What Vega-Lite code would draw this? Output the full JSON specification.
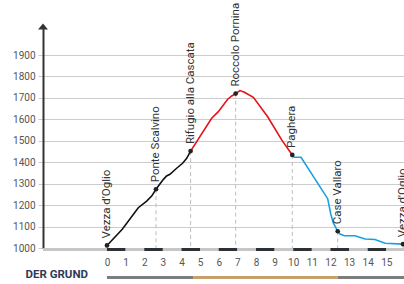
{
  "$schema": "https://vega.github.io/schema/vega-lite/v6.json",
  "width": 361,
  "height": 223,
  "autosize": {"type": "none"},
  "padding": {"left": 43, "top": 25, "right": 0, "bottom": 36},
  "background": "white",
  "config": {"view": {"stroke": null}, "font": "Roboto", "axis": {"labelOverlap": false}},
  "datasets": {
    "band": [
      {"from": -3.437, "to": 0, "kind": "light"},
      {"from": 0, "to": 1, "kind": "dark"},
      {"from": 1, "to": 2, "kind": "light"},
      {"from": 2, "to": 3, "kind": "dark"},
      {"from": 3, "to": 4, "kind": "light"},
      {"from": 4, "to": 5, "kind": "dark"},
      {"from": 5, "to": 6, "kind": "light"},
      {"from": 6, "to": 7, "kind": "dark"},
      {"from": 7, "to": 8, "kind": "light"},
      {"from": 8, "to": 9, "kind": "dark"},
      {"from": 9, "to": 10, "kind": "light"},
      {"from": 10, "to": 11, "kind": "dark"},
      {"from": 11, "to": 12, "kind": "light"},
      {"from": 12, "to": 13, "kind": "dark"},
      {"from": 13, "to": 14, "kind": "light"},
      {"from": 14, "to": 15, "kind": "dark"},
      {"from": 15, "to": 16, "kind": "light"}
    ],
    "track": [
      {"from": 0, "to": 4.65, "surface": "road"},
      {"from": 4.65, "to": 12.4, "surface": "trail"},
      {"from": 12.4, "to": 16, "surface": "road"}
    ],
    "profile": [
      {"km": 0, "elev": 1012, "seg": "a"},
      {"km": 0.82, "elev": 1087, "seg": "a"},
      {"km": 1.68, "elev": 1188, "seg": "a"},
      {"km": 2.13, "elev": 1219, "seg": "a"},
      {"km": 2.4, "elev": 1242, "seg": "a"},
      {"km": 2.63, "elev": 1274, "seg": "a"},
      {"km": 3.03, "elev": 1320, "seg": "a"},
      {"km": 3.2, "elev": 1336, "seg": "a"},
      {"km": 3.38, "elev": 1344, "seg": "a"},
      {"km": 3.74, "elev": 1372, "seg": "a"},
      {"km": 4.06, "elev": 1395, "seg": "a"},
      {"km": 4.28, "elev": 1418, "seg": "a"},
      {"km": 4.49, "elev": 1452, "seg": "a"},
      {"km": 4.49, "elev": 1452, "seg": "b"},
      {"km": 5.62, "elev": 1605, "seg": "b"},
      {"km": 5.98, "elev": 1636, "seg": "b"},
      {"km": 6.48, "elev": 1694, "seg": "b"},
      {"km": 6.7, "elev": 1709, "seg": "b"},
      {"km": 6.91, "elev": 1720, "seg": "b"},
      {"km": 7.14, "elev": 1734, "seg": "b"},
      {"km": 7.38, "elev": 1726, "seg": "b"},
      {"km": 7.86, "elev": 1703, "seg": "b"},
      {"km": 8.63, "elev": 1612, "seg": "b"},
      {"km": 9.38, "elev": 1504, "seg": "b"},
      {"km": 9.95, "elev": 1434, "seg": "b"},
      {"km": 9.95, "elev": 1434, "seg": "c"},
      {"km": 10.05, "elev": 1423, "seg": "c"},
      {"km": 10.42, "elev": 1423, "seg": "c"},
      {"km": 11.85, "elev": 1230, "seg": "c"},
      {"km": 12.03, "elev": 1154, "seg": "c"},
      {"km": 12.15, "elev": 1118, "seg": "c"},
      {"km": 12.39, "elev": 1078, "seg": "c"},
      {"km": 12.51, "elev": 1065, "seg": "c"},
      {"km": 12.75, "elev": 1057, "seg": "c"},
      {"km": 13.32, "elev": 1057, "seg": "c"},
      {"km": 13.86, "elev": 1042, "seg": "c"},
      {"km": 14.39, "elev": 1040, "seg": "c"},
      {"km": 14.93, "elev": 1022, "seg": "c"},
      {"km": 15.9, "elev": 1018, "seg": "c"}
    ],
    "places": [
      {"km": 0, "elev": 1012, "name": "Vezza d'Oglio"},
      {"km": 2.63, "elev": 1274, "name": "Ponte Scalvino"},
      {"km": 4.49, "elev": 1452, "name": "Rifugio alla Cascata"},
      {"km": 6.91, "elev": 1720, "name": "Roccolo Pornina"},
      {"km": 9.95, "elev": 1434, "name": "Paghera"},
      {"km": 12.39, "elev": 1078, "name": "Case Vallaro"},
      {"km": 15.9, "elev": 1018, "name": "Vezza d'Oglio"}
    ]
  },
  "resolve": {"scale": {"color": "independent"}},
  "layer": [
    {
      "data": {"name": "band"},
      "mark": {"type": "rect"},
      "encoding": {
        "x": {
          "field": "from", "type": "quantitative",
          "scale": {"domain": [-3.437, 15.95], "nice": false, "zero": false},
          "axis": {"values": [0,1,2,3,4,5,6,7,8,9,10,11,12,13,14,15], "tickCount": 40, "format": "d", "title": null, "domain": false, "ticks": false, "tickSize": 0, "grid": false, "labelColor": "#555555", "labelFontSize": 10, "labelPadding": 9, "labelFlush": false, "labelOverlap": false}
        },
        "x2": {"field": "to"},
        "y": {
          "datum": 1000, "type": "quantitative",
          "scale": {"domain": [1000, 2040], "nice": false, "zero": false},
          "axis": {"values": [1000,1100,1200,1300,1400,1500,1600,1700,1800,1900], "tickCount": 40, "format": "d", "title": null, "grid": true, "gridColor": "#cccccc", "gridWidth": 1, "domainColor": "#333333", "domainWidth": 2, "tickColor": "#cccccc", "tickSize": 5, "labelColor": "#555555", "labelFontSize": 10, "labelPadding": 3, "labelOverlap": false}
        },
        "y2": {"datum": 986},
        "color": {"field": "kind", "type": "nominal", "scale": {"domain": ["light", "dark"], "range": ["#c6c6c6", "#2b2f36"]}, "legend": null}
      }
    },
    {
      "data": {"name": "track"},
      "mark": {"type": "rect"},
      "encoding": {
        "x": {"field": "from", "type": "quantitative"},
        "x2": {"field": "to"},
        "y": {"datum": 869},
        "y2": {"datum": 855},
        "color": {"field": "surface", "type": "nominal", "scale": {"domain": ["road", "trail"], "range": ["#7d7d7d", "#c89f68"]}, "legend": null}
      }
    },
    {
      "data": {"name": "places"},
      "mark": {"type": "rule", "strokeDash": [4, 3], "color": "#bdbdbd", "strokeWidth": 1},
      "encoding": {
        "x": {"field": "km", "type": "quantitative"},
        "y": {"field": "elev", "type": "quantitative"},
        "y2": {"datum": 1000}
      }
    },
    {
      "data": {"name": "profile"},
      "mark": {"type": "line", "strokeWidth": 1.6},
      "encoding": {
        "x": {"field": "km", "type": "quantitative"},
        "y": {"field": "elev", "type": "quantitative"},
        "color": {"field": "seg", "type": "nominal", "scale": {"domain": ["a", "b", "c"], "range": ["#111111", "#e3121b", "#1a9fe0"]}, "legend": null}
      }
    },
    {
      "data": {"name": "places"},
      "mark": {"type": "point", "filled": true, "size": 22, "color": "#222222", "opacity": 1},
      "encoding": {
        "x": {"field": "km", "type": "quantitative"},
        "y": {"field": "elev", "type": "quantitative"}
      }
    },
    {
      "data": {"name": "places"},
      "mark": {"type": "text", "angle": 270, "align": "left", "baseline": "middle", "dx": 7, "fontSize": 11.5, "color": "#333333"},
      "encoding": {
        "x": {"field": "km", "type": "quantitative"},
        "y": {"field": "elev", "type": "quantitative"},
        "text": {"field": "name"}
      }
    },
    {
      "data": {"values": [{}]},
      "mark": {"type": "point", "shape": "M-1,0.6L0,-0.6L1,0.6Z", "filled": true, "size": 100, "color": "#333333", "opacity": 1},
      "encoding": {
        "x": {"datum": -3.437},
        "y": {"datum": 2033}
      }
    },
    {
      "data": {"values": [{}]},
      "mark": {"type": "text", "text": "DER GRUND", "fontWeight": "bold", "fontSize": 11.5, "color": "#2d3a58", "align": "right", "baseline": "middle"},
      "encoding": {
        "x": {"datum": -1.02},
        "y": {"datum": 874}
      }
    }
  ]
}
